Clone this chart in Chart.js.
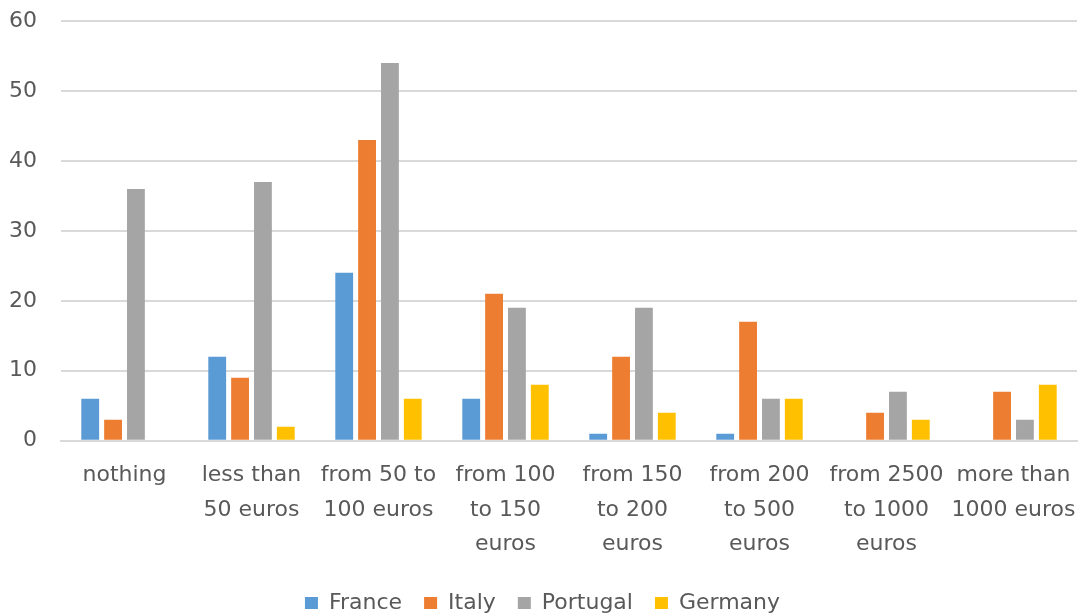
<!DOCTYPE html>
<html>
<head>
<meta charset="utf-8">
<script src="https://cdn.jsdelivr.net/npm/chart.js@4"></script>
<style>
  html, body { margin: 0; padding: 0; background: #ffffff; }
  #wrap { width: 1085px; height: 616px; position: relative; }
</style>
</head>
<body>
<div id="wrap"><canvas id="spendChart"></canvas></div>
<script>
const categories = [
  "nothing",
  ["less than", "50 euros"],
  ["from 50 to", "100 euros"],
  ["from 100", "to 150", "euros"],
  ["from 150", "to 200", "euros"],
  ["from 200", "to 500", "euros"],
  ["from 2500", "to 1000", "euros"],
  ["more than", "1000 euros"]
];

const franceValues = [6, 12, 24, 6, 1, 1, 0, 0];
const italyValues = [3, 9, 43, 21, 12, 17, 4, 7];
const portugalValues = [36, 37, 54, 19, 19, 6, 7, 3];
const germanyValues = [0, 2, 6, 8, 4, 6, 3, 8];

const yTicks = [0, 10, 20, 30, 40, 50, 60];

const textColor = "#595959";
const gridColor = "#d9d9d9";
const labelFont = { family: "DejaVu Sans, sans-serif", size: 22 };

function makeSeries(label, data, color) {
  return {
    label: label,
    data: data,
    backgroundColor: color,
    categoryPercentage: 0.72,
    barPercentage: 0.78
  };
}

function createSpendChart() {
  const ctx = document.getElementById("spendChart");
  if (!ctx) return;

  new Chart(ctx, {
    type: "bar",
    data: {
      labels: categories,
      datasets: [
        makeSeries("France", franceValues, "#5b9bd5"),
        makeSeries("Italy", italyValues, "#ed7d31"),
        makeSeries("Portugal", portugalValues, "#a5a5a5"),
        makeSeries("Germany", germanyValues, "#ffc000")
      ]
    },
    options: {
      responsive: true,
      maintainAspectRatio: false,
      animation: false,
      layout: {
        padding: { top: 21, right: 8, left: 8, bottom: -8 }
      },
      plugins: {
        legend: {
          position: "bottom",
          labels: {
            color: textColor,
            font: labelFont,
            boxWidth: 13,
            boxHeight: 12,
            padding: 22
          }
        },
        tooltip: { enabled: false }
      },
      scales: {
        x: {
          grid: { display: false, drawTicks: false },
          border: { color: gridColor, width: 2 },
          afterFit: axis => {
            axis.paddingLeft = 0;
            axis.paddingRight = 0;
            axis.height -= 9;
          },
          ticks: {
            color: textColor,
            font: { ...labelFont, lineHeight: 1.55 },
            maxRotation: 0,
            minRotation: 0,
            autoSkip: false,
            padding: 18
          }
        },
        y: {
          min: 0,
          max: 60,
          afterBuildTicks: axis => {
            axis.ticks = yTicks.map(v => ({ value: v }));
          },
          afterFit: axis => {
            axis.width = 53;
            axis.paddingTop = 0;
            axis.paddingBottom = 0;
          },
          grid: { color: gridColor, lineWidth: 2, drawTicks: false },
          border: { display: false },
          ticks: {
            color: textColor,
            font: labelFont,
            padding: 24
          }
        }
      }
    }
  });
}

document.addEventListener("DOMContentLoaded", createSpendChart);
</script>
</body>
</html>
